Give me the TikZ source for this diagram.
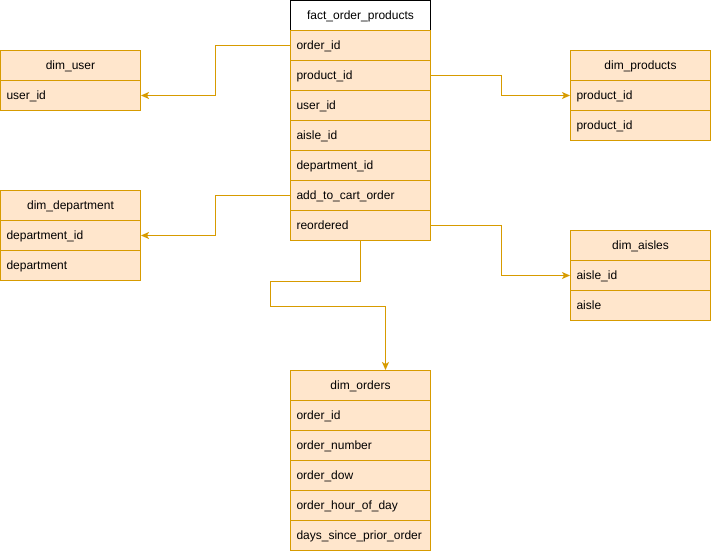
\documentclass[tikz,border=0pt]{standalone}
\usepackage{fontspec}
\setmainfont{Liberation Sans}
\usetikzlibrary{arrows.meta,positioning}

\definecolor{riempimento}{HTML}{FFE6CC}
\definecolor{bordo}{HTML}{D79B00}

\begin{document}
\begin{tikzpicture}[x=1pt,y=-1pt,
    font=\fontsize{12}{14}\selectfont,
    campo/.style={draw=bordo,line width=1pt,fill=riempimento,anchor=north west,
        minimum height=30,text width=128,inner xsep=6,inner ysep=0,align=left,
        text height=10,text depth=2},
    testata/.style={campo,align=center},
    freccia/.style={draw=bordo,line width=1pt,-{Stealth[length=8pt,width=7pt,inset=2pt]}}]

        \useasboundingbox (0,0) rectangle (711,551);

        % Tabella dei fatti
        \node[testata,draw=black,fill=white] (fop) at (290,0) {fact\_order\_products};
        \foreach \campo [count=\i] in {order\_id,product\_id,user\_id,aisle\_id,department\_id,add\_to\_cart\_order,reordered}
            \node[campo] (fop\i) at (290,{30*\i}) {\campo};

        % Dimensioni a sinistra
        \node[testata] (user) at (0,50) {dim\_user};
        \node[campo] (user1) at (0,80) {user\_id};

        \node[testata] (dep) at (0,190) {dim\_department};
        \node[campo] (dep1) at (0,220) {department\_id};
        \node[campo] (dep2) at (0,250) {department};

        % Dimensioni a destra
        \node[testata] (prod) at (570,50) {dim\_products};
        \node[campo] (prod1) at (570,80) {product\_id};
        \node[campo] (prod2) at (570,110) {product\_id};

        \node[testata] (ais) at (570,230) {dim\_aisles};
        \node[campo] (ais1) at (570,260) {aisle\_id};
        \node[campo] (ais2) at (570,290) {aisle};

        % Dimensione ordini
        \node[testata] (ord) at (290,370) {dim\_orders};
        \foreach \campo [count=\i] in {order\_id,order\_number,order\_dow,order\_hour\_of\_day,days\_since\_prior\_order}
            \node[campo] (ord\i) at (290,{370+30*\i}) {\campo};

        % Collegamenti
        \draw[freccia] (fop1.west) -- ++(-75,0) |- (user1.east);
        \draw[freccia] (fop6.west) -- ++(-75,0) |- (dep1.east);
        \draw[freccia] (fop2.east) -- ++(70,0) |- (prod1.west);
        \draw[freccia] (fop7.east) -- ++(70,0) |- (ais1.west);
        \draw[freccia] (fop7.south) -- ++(0,40) -- ++(-90,0) -- ++(0,25) -| ([xshift=25]ord.north);

\end{tikzpicture}
\end{document}
